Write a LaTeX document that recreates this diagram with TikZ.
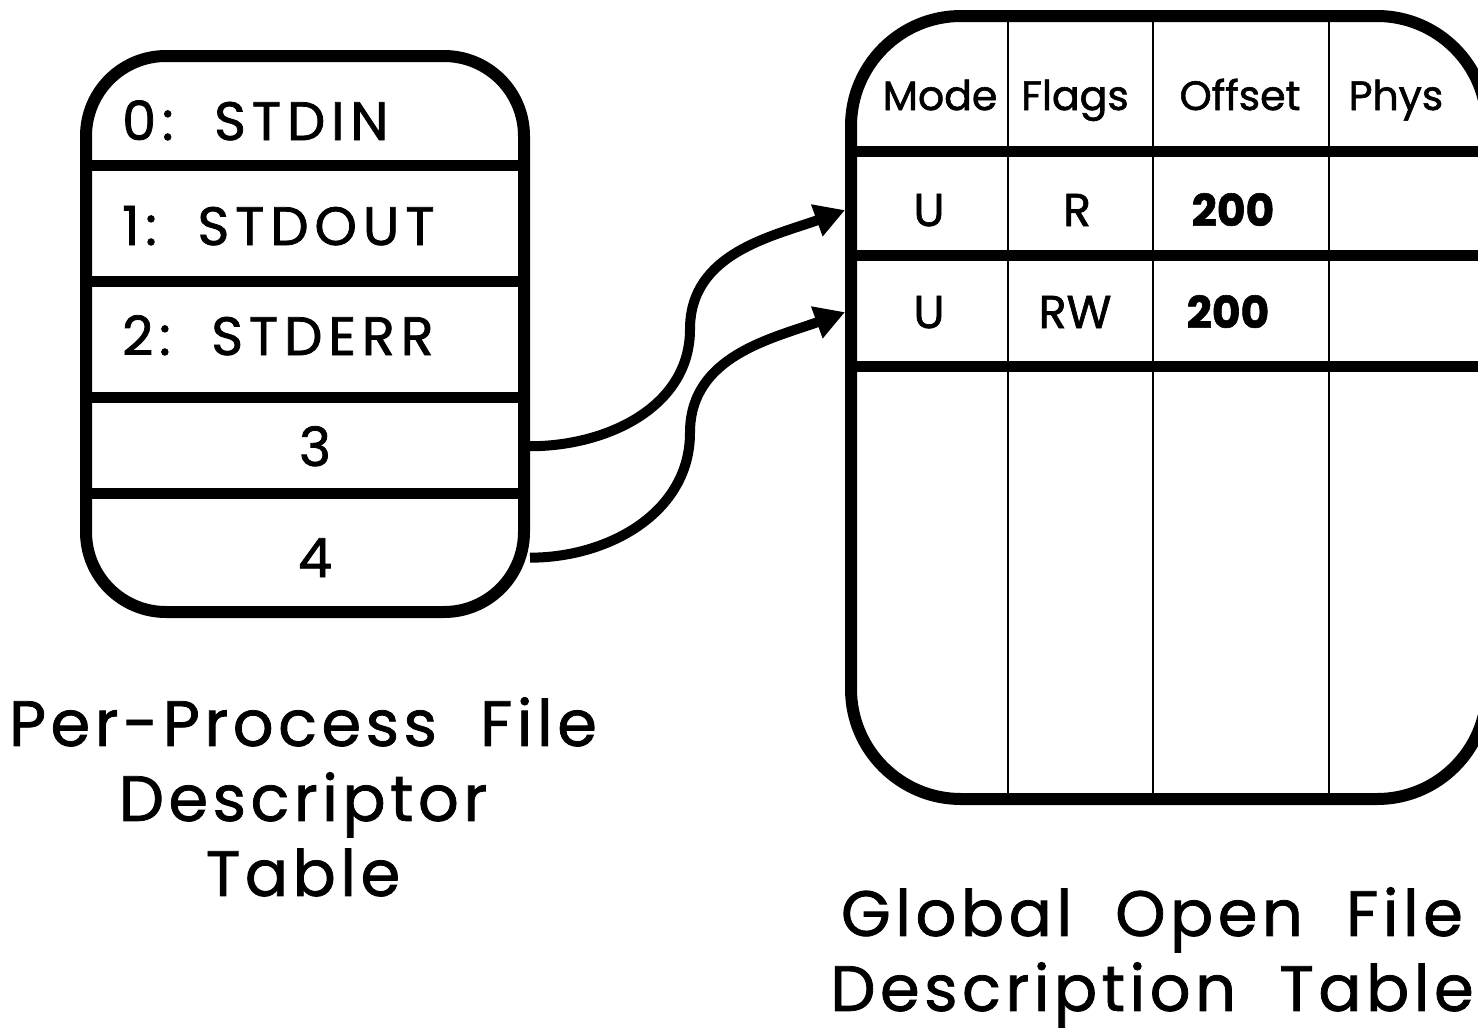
\documentclass[tikz,border=0pt]{standalone}
\usepackage{fontspec}
\setmainfont{Poppins}[FakeBold=1.4]
\newfontfamily\spacedfont{Poppins}[LetterSpace=11, FakeBold=1.4]
\newfontfamily\titlefont{Poppins}[LetterSpace=7, FakeBold=1.2]
\usetikzlibrary{arrows.meta}
\definecolor{ink}{HTML}{000000}
\definecolor{paper}{HTML}{FFFFFF}
\tikzset{
  tablebox/.style={draw=ink, line width=12pt, rounded corners=#1, inner sep=0pt},
  rowline/.style={ink, line width=11pt},
  colline/.style={ink, line width=2.6pt},
  fdlink/.style={ink, line width=10pt, -{Triangle[length=30pt, width=32pt]}},
  fdtext/.style={font=\spacedfont\fontsize{54}{60}\selectfont, inner sep=0pt},
  headtext/.style={font=\fontsize{41}{50}\selectfont, inner sep=0pt, anchor=base},
  celltext/.style={font=\fontsize{46}{54}\selectfont, inner sep=0pt, anchor=base},
  offtext/.style={celltext, font=\fontsize{44}{54}\selectfont\bfseries},
  tabletitle/.style={font=\titlefont\fontsize{64}{75}\selectfont, align=center, inner sep=0pt, anchor=north}
}

\begin{document}
\begin{tikzpicture}[x=1pt,y=-1pt]
\useasboundingbox (0,0) rectangle (1478,1034);
\clip (0,0) rectangle (1478,1034);
\fill[paper] (0,0) rectangle (1478,1034);
% per-process descriptor table
\node[tablebox=80pt, minimum width=438pt, minimum height=556pt] (fdtab) at (305,334) {};
\foreach \y in {165,281,397,493} \draw[rowline] (86,\y) -- (524,\y);
\node[fdtext, anchor=base west] (fd0) at (122,140) {0:~~STDIN};
\node[fdtext, anchor=base west] (fd1) at (122,245) {1:~~STDOUT};
\node[fdtext, anchor=base west] (fd2) at (122,355) {2:~~STDERR};
\node[fdtext, anchor=base] (fd3) at (315,466) {3};
\node[fdtext, anchor=base] (fd4) at (315,577) {4};
\node[tabletitle] (fdname) at (303,697) {Per-Process~~File\\Descriptor\\Table};
% open file description table, runs off the right edge
\node[tablebox=110pt, minimum width=636pt, minimum height=783pt] (oft) at (1169,407.5) {};
\foreach \x in {1008,1153,1329} \draw[colline] (\x,16) -- (\x,799);
\foreach \y in {151,255,366} \draw[rowline] (851,\y) -- (1487,\y);
\node[headtext] (hmode) at (940,110) {Mode};
\node[headtext] (hflags) at (1075,110) {Flags};
\node[headtext] (hoff) at (1240,110) {Offset};
\node[headtext] (hphys) at (1396,110) {Phys};
\node[celltext] (mode1) at (929,226) {U};
\node[celltext] (flag1) at (1077,226) {R};
\node[offtext] (off1) at (1233,226) {200};
\node[celltext] (mode2) at (929,328) {U};
\node[celltext] (flag2) at (1075,328) {RW};
\node[offtext] (off2) at (1228,328) {200};
\node[tabletitle] (oftname) at (1152,887) {Global~~Open~~File\\Description~~Table};
% descriptors 3 and 4 point into the global table
\draw[fdlink] (fd3 -| fdtab.east) to[out=0,in=-90] ++(160,-117) to[out=90,in=200] (mode1 -| oft.west);
\draw[fdlink] (fd4 -| fdtab.east) to[out=0,in=-90] ++(160,-125) to[out=90,in=200] (mode2 -| oft.west);
\end{tikzpicture}
\end{document}
